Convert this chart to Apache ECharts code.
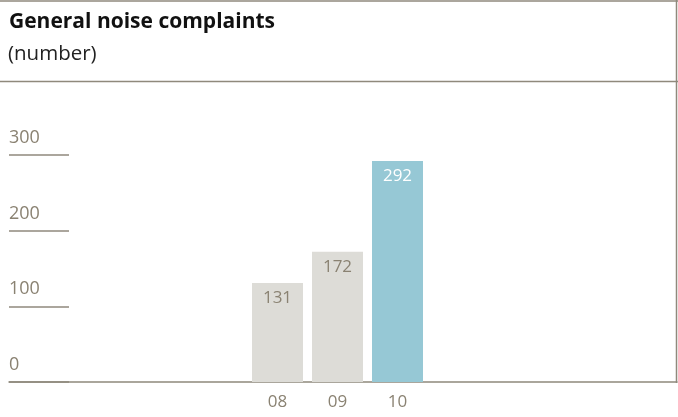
<!DOCTYPE html>
<html><head><meta charset="utf-8">
<script src="https://cdn.jsdelivr.net/npm/echarts@6/dist/echarts.min.js"></script>
<style>html,body{margin:0;padding:0;background:#fff}#c{width:678px;height:417px}</style>
</head><body><div id="c"></div>
<script>
const categories = ["08", "09", "10"];
const values = [131, 172, 292];
const barColors = ["#dddcd7", "#dddcd7", "#96c8d5"];
const labelColors = ["#8a8272", "#8a8272", "#ffffff"];
const yTicks = [0, 100, 200, 300];

const lineColor = "#8f897c";
const textColor = "#8a8272";
const font = "'Open Sans', 'Noto Sans', sans-serif";

const chart = echarts.init(document.getElementById('c'), null, {renderer: 'canvas'});
const gTop = 155, gBottom = 35;
chart.setOption({
  animation: false,
  title: [
    {text: "General noise complaints", left: 9, top: 12, padding: 0,
     textStyle: {fontFamily: font, fontWeight: 'bold', fontSize: 21, color: '#111'}},
    {text: "(number)", left: 8, top: 44, padding: 0,
     textStyle: {fontFamily: font, fontWeight: 'normal', fontSize: 20.5, color: '#222'}}
  ],
  graphic: [
    {type: 'line', shape: {x1: 0, y1: 1, x2: 678, y2: 1}, style: {stroke: lineColor, lineWidth: 1.5}},
    {type: 'line', shape: {x1: 0, y1: 81.5, x2: 678, y2: 81.5}, style: {stroke: lineColor, lineWidth: 1.5}},
    {type: 'line', shape: {x1: 676.5, y1: 0, x2: 676.5, y2: 383}, style: {stroke: lineColor, lineWidth: 1.5}}
  ],
  grid: [
    {left: 9, right: 1, top: gTop, bottom: gBottom},
    {left: 9, width: 60, top: gTop, bottom: gBottom},
    {left: 247.5, width: 180, top: gTop, bottom: gBottom}
  ],
  xAxis: [
    {gridIndex: 0, type: 'value', min: 0, max: 1, axisLine: {show: true, lineStyle: {color: lineColor, width: 1.5}},
     axisTick: {show: false}, axisLabel: {show: false}, splitLine: {show: false}},
    {gridIndex: 1, type: 'value', min: 0, max: 1, axisLine: {show: false},
     axisTick: {show: false}, axisLabel: {show: false}, splitLine: {show: false}},
    {gridIndex: 2, type: 'category', data: categories, axisLine: {show: false}, axisTick: {show: false},
     axisLabel: {color: textColor, fontSize: 17, fontFamily: font, margin: 12}}
  ],
  yAxis: [
    {gridIndex: 0, type: 'value', min: 0, max: 300, interval: 100, show: false},
    {gridIndex: 1, type: 'value', min: 0, max: 300, interval: 100,
     axisLine: {show: false}, axisTick: {show: false},
     splitLine: {show: true, lineStyle: {color: lineColor, width: 1.5}},
     axisLabel: {inside: true, margin: 0, align: 'left', verticalAlign: 'bottom', padding: [0, 0, 8, 0],
                 color: textColor, fontSize: 18, fontFamily: font,
                 customValues: yTicks}},
    {gridIndex: 2, type: 'value', min: 0, max: 300, interval: 100, show: false}
  ],
  series: [{
    type: 'bar', xAxisIndex: 2, yAxisIndex: 2, barWidth: 51,
    data: values.map((v, i) => ({value: v, itemStyle: {color: barColors[i]},
      label: {color: labelColors[i]}})),
    label: {show: true, position: 'insideTop', distance: 7, fontSize: 17, fontFamily: font}
  }]
});
</script></body></html>
